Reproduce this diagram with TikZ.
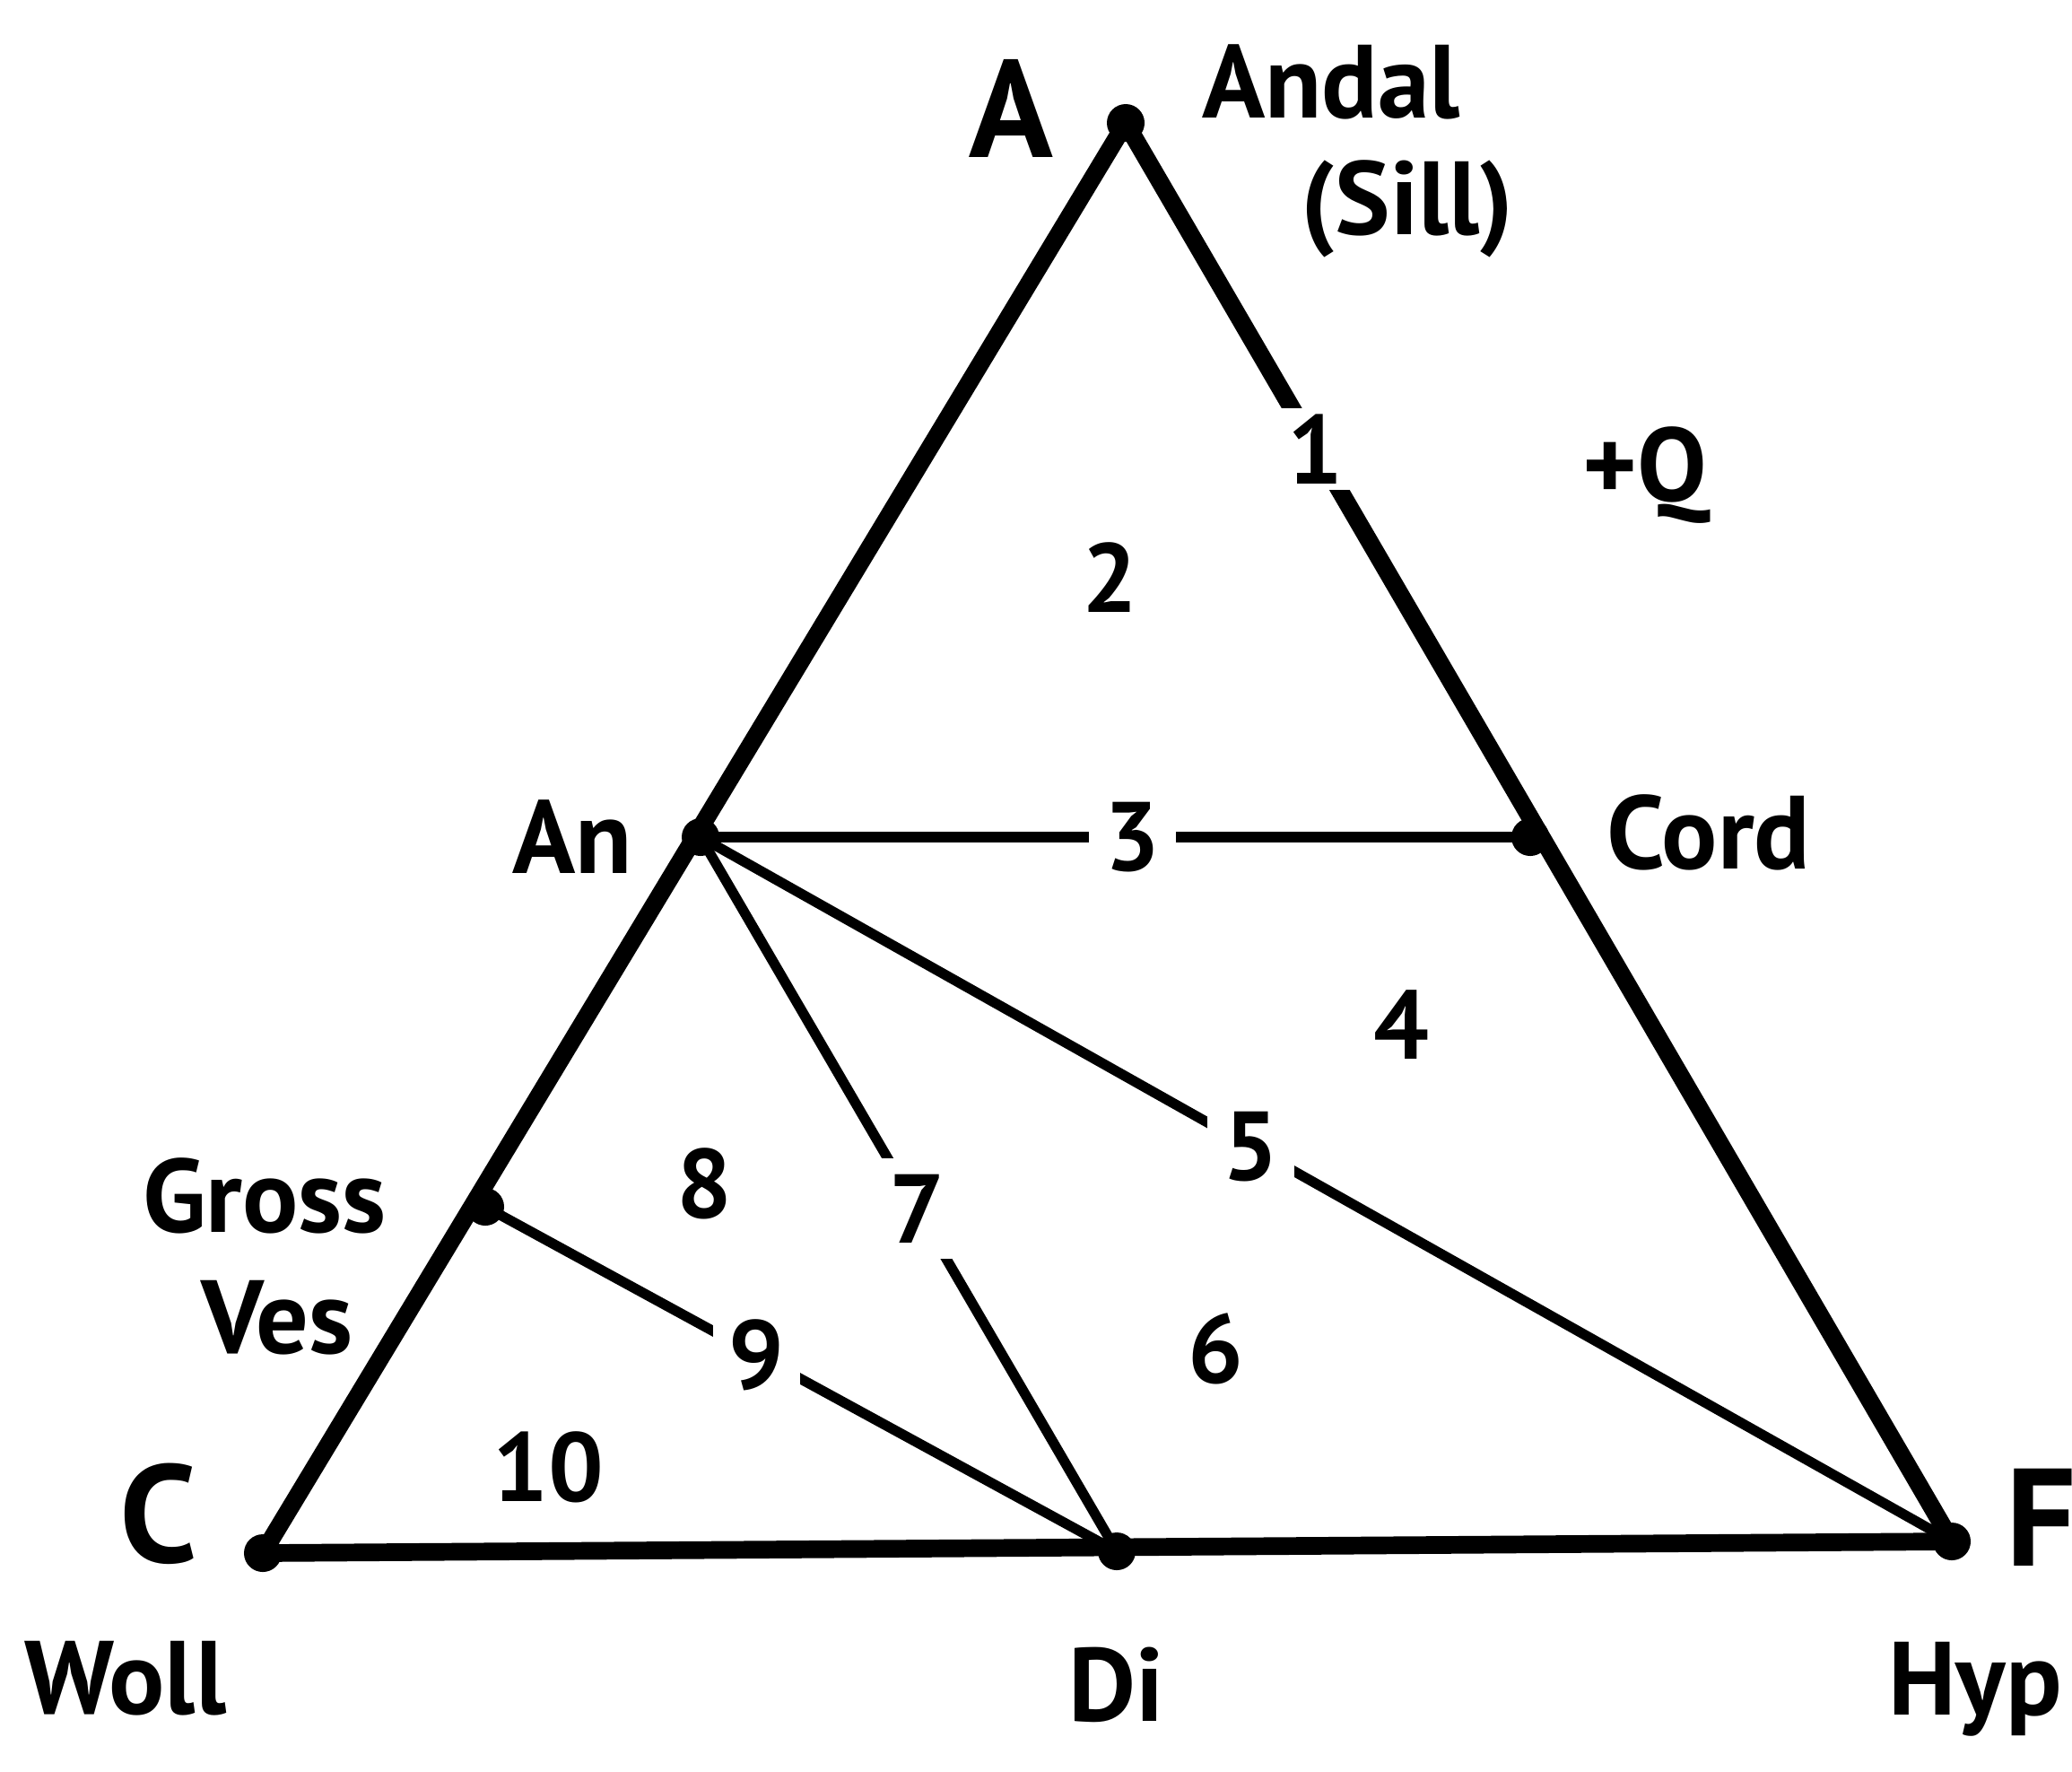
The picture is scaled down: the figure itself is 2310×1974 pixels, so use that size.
\documentclass[tikz,border=0pt]{standalone}
\usepackage{fontspec}
\setmainfont{PT Sans}
\begin{document}
\begin{tikzpicture}[x=0.01cm,y=-0.01cm,
  dot/.style={circle,fill=black,inner sep=0pt,minimum size=0.42cm},
  edge/.style={line width=5.6pt,line cap=round},
  tie/.style={line width=3.2pt,line cap=round},
  lab/.style={font=\fontsize{33}{36}\selectfont\bfseries,inner sep=0pt},
  num/.style={font=\fontsize{31}{34}\selectfont\bfseries,inner sep=0pt},
  big/.style={font=\fontsize{44}{48}\selectfont\bfseries,inner sep=0pt},
  onl/.style={fill=white,font=\fontsize{31}{34}\selectfont\bfseries,inner sep=5pt}]
\useasboundingbox (0,0) rectangle (2310,1974);
% vertices
\node[dot] (A) at (1255,137) {};
\node[dot] (C) at (293,1731) {};
\node[dot] (F) at (2176,1718) {};
\node[dot] (Di) at (1245,1729) {};
\node[dot] (An) at (781,933) {};
\node[dot] (Cord) at (1706,933) {};
\node[dot] (Gross) at (541,1345) {};
% triangle
\draw[edge] (A.center) -- (C.center) -- (F.center);
\draw[edge] (A.center) -- node[onl,pos=0.23,inner ysep=2pt] {1} (F.center);
% tie lines
\draw[tie] (An.center) -- node[onl,pos=0.52] {3} (Cord.center);
\draw[tie] (An.center) -- node[onl,pos=0.44] {5} (F.center);
\draw[tie] (An.center) -- node[onl,pos=0.52] {7} (Di.center);
\draw[tie] (Gross.center) -- node[onl,pos=0.43] {9} (Di.center);
% corner labels
\node[big] (lA) at (1127,121) {A};
\node[big] (lC) at (177,1687) {C};
\node[big] (lF) at (2276,1691) {F};
% phase labels
\node[lab] (Andal) at (1484,91) {Andal};
\node[lab] (Sill) at (1569,233) {(Sill)};
\node[lab] (Q) at (1834,530) {+Q};
\node[lab] (lAn) at (638,933) {An};
\node[lab] (lCord) at (1905,928) {Cord};
\node[lab] (lGross) at (295,1333) {Gross};
\node[lab] (lVes) at (309,1469) {Ves};
\node[lab] (lWoll) at (140,1871) {Woll};
\node[lab] (lDi) at (1245,1878) {Di};
\node[lab] (lHyp) at (2202,1883) {Hyp};
% field numbers
\node[num] (n2) at (1237,644) {2};
\node[num] (n4) at (1562,1142) {4};
\node[num] (n8) at (785,1319) {8};
\node[num] (n6) at (1355,1503) {6};
\node[num] (n10) at (611,1635) {10};
\end{tikzpicture}
\end{document}
